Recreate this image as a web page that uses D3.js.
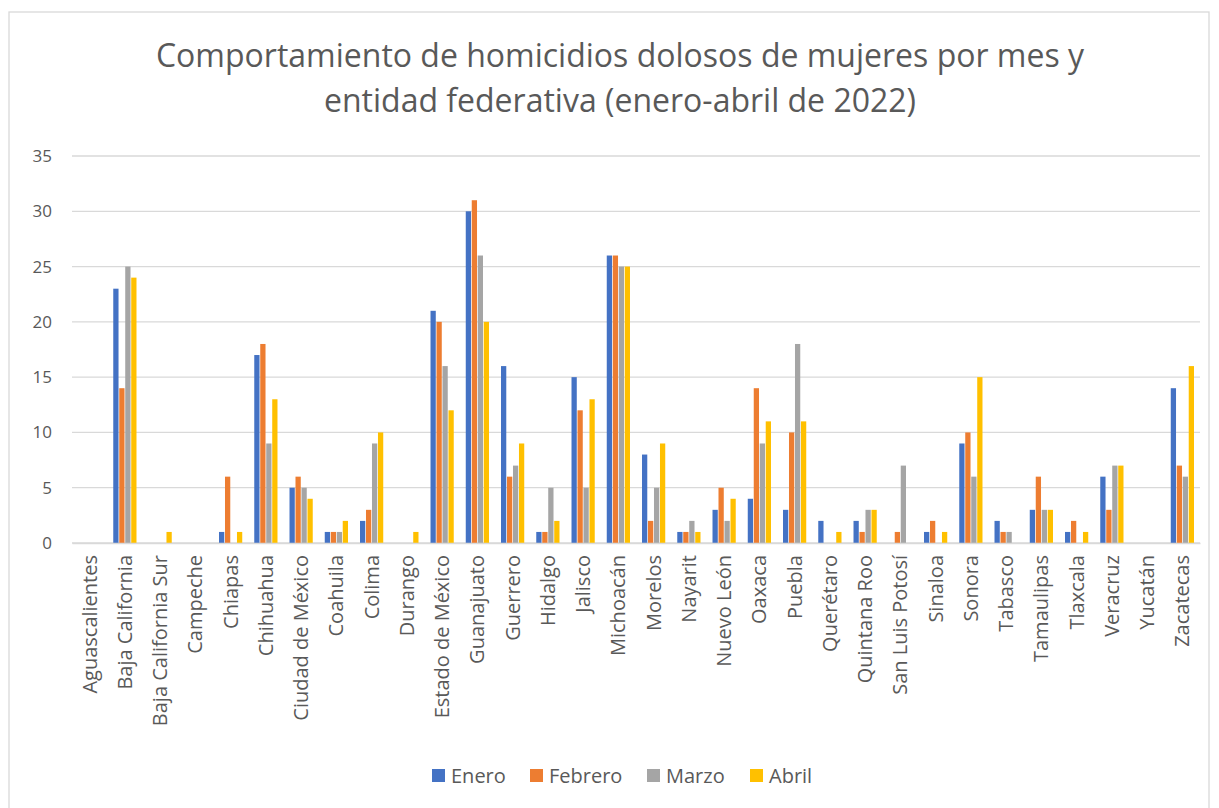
<!DOCTYPE html>
<html>
<head lang="es">
    <meta charset="UTF-8">
    <title>Homicidios dolosos de mujeres</title>
    <script src="https://d3js.org/d3.v7.min.js"></script>
</head>
<body style="margin:0;background:#fff">
<svg id="chart" width="1219" height="808"></svg>
<style>
    text { font-family: "Open Sans", sans-serif; fill: #595959; }
    .grid line { stroke: #d9d9d9; stroke-width: 1.3; }
</style>
<script>

    const ENTIDADES = ["Aguascalientes","Baja California","Baja California Sur","Campeche","Chiapas",
        "Chihuahua","Ciudad de México","Coahuila","Colima","Durango","Estado de México","Guanajuato",
        "Guerrero","Hidalgo","Jalisco","Michoacán","Morelos","Nayarit","Nuevo León","Oaxaca","Puebla",
        "Querétaro","Quintana Roo","San Luis Potosí","Sinaloa","Sonora","Tabasco","Tamaulipas",
        "Tlaxcala","Veracruz","Yucatán","Zacatecas"];

    const MESES = ["Enero","Febrero","Marzo","Abril"];
    const COLORES = ["#4472C4","#ED7D31","#A5A5A5","#FFC000"];

    const ENERO   = [0,23,0,0,1,17,5,1,2,0,21,30,16,1,15,26,8,1,3,4,3,2,2,0,1,9,2,3,1,6,0,14];
    const FEBRERO = [0,14,0,0,6,18,6,1,3,0,20,31,6,1,12,26,2,1,5,14,10,0,1,1,2,10,1,6,2,3,0,7];
    const MARZO   = [0,25,0,0,0,9,5,1,9,0,16,26,7,5,5,25,5,2,2,9,18,0,3,7,0,6,1,3,0,7,0,6];
    const ABRIL   = [0,24,1,0,1,13,4,2,10,1,12,20,9,2,13,25,9,1,4,11,11,1,3,0,1,15,0,3,1,7,0,16];

    const Y_TICKS = [0,5,10,15,20,25,30,35];

    const TITULO = ["Comportamiento de homicidios dolosos de mujeres por mes y",
                    "entidad federativa (enero-abril de 2022)"];

    let series = [ENERO, FEBRERO, MARZO, ABRIL];
    let data = ENTIDADES.map((e, i) => ({entidad: e, valores: series.map(s => s[i])}));

    let svg = d3.select('#chart');
    let margins = {top:156, left:72, right:19, bottom:265};
    let width = 1219 - margins.left - margins.right,
        height = 808 - margins.top - margins.bottom;

    // marco exterior
    svg.append('rect').attr('x', 9).attr('y', 12).attr('width', 1200).attr('height', 810)
        .attr('fill', 'none').attr('stroke', '#d9d9d9').attr('stroke-width', 1.3);

    // titulo
    svg.append('text').attr('x', 620).attr('y', 67).attr('text-anchor', 'middle')
        .style('font-size', '32px').text(TITULO[0]);
    svg.append('text').attr('x', 620).attr('y', 112).attr('text-anchor', 'middle')
        .style('font-size', '32px').text(TITULO[1]);

    let xscale = d3.scaleBand().domain(ENTIDADES).range([0, width]).paddingInner(0.3).paddingOuter(0.15),
        x1 = d3.scaleBand().domain(MESES).range([0, xscale.bandwidth()]).padding(0.12),
        yscale = d3.scaleLinear().domain([0, 35]).range([height, 0]);

    let g = svg.append('g').attr('transform', `translate(${margins.left}, ${margins.top})`);

    // lineas de cuadricula
    g.append('g').attr('class', 'grid')
        .selectAll('line').data(Y_TICKS).enter().append('line')
        .attr('x1', 0).attr('x2', width)
        .attr('y1', d => yscale(d)).attr('y2', d => yscale(d));

    // eje y
    let yaxis = g.append('g').call(d3.axisLeft(yscale).tickValues(Y_TICKS).tickSize(0).tickPadding(20));
    yaxis.select('.domain').remove();
    yaxis.selectAll('text').style('font-size', '17px').style('fill', '#595959');

    // barras
    let grupos = g.selectAll('.grupo').data(data).enter().append('g')
        .attr('class', 'grupo')
        .attr('transform', d => `translate(${xscale(d.entidad)},0)`);

    grupos.selectAll('rect')
        .data(d => d.valores.map((v, j) => ({mes: MESES[j], v: v, c: COLORES[j]})))
        .enter().append('rect')
        .attr('x', d => x1(d.mes))
        .attr('width', x1.bandwidth())
        .attr('y', d => yscale(d.v))
        .attr('height', d => height - yscale(d.v))
        .attr('fill', d => d.c);

    // eje x
    let xaxis = g.append('g').attr('transform', `translate(0,${height})`)
        .call(d3.axisBottom(xscale).tickSize(0).tickPadding(0));
    xaxis.select('.domain').attr('stroke', '#d9d9d9').attr('stroke-width', 1.3);
    xaxis.selectAll('text')
        .style('font-size', '20px').style('fill', '#595959')
        .attr('text-anchor', 'end')
        .attr('transform', 'rotate(-90)')
        .attr('x', -12).attr('y', 0).attr('dy', '0.35em');

    // leyenda
    let legendX = [432, 530, 647, 750];
    let leyenda = svg.append('g').selectAll('g').data(MESES).enter().append('g')
        .attr('transform', (d, i) => `translate(${legendX[i]}, 775)`);
    leyenda.append('rect').attr('x', 0).attr('y', -6).attr('width', 13).attr('height', 13)
        .attr('fill', (d, i) => COLORES[i]);
    leyenda.append('text').attr('x', 19).attr('y', 1).attr('dy', '0.35em')
        .style('font-size', '20px').text(d => d);

</script>
</body>
</html>
